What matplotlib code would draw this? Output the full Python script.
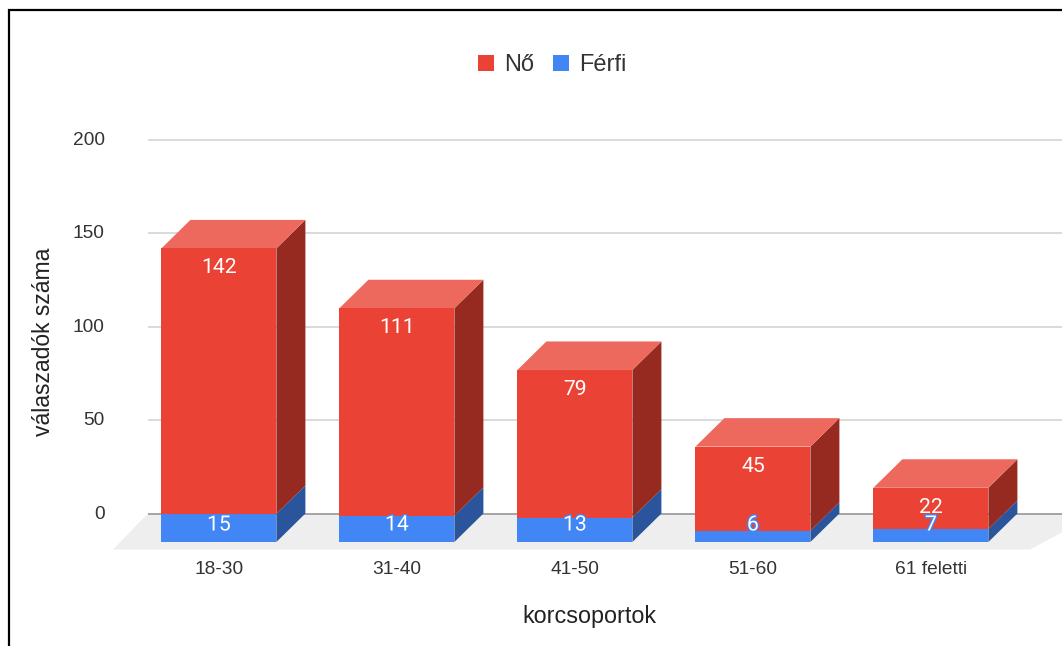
import matplotlib.pyplot as plt
from matplotlib.lines import Line2D
from matplotlib.patches import Patch
from matplotlib.transforms import ScaledTranslation
import matplotlib.patheffects as pe

plt.rcParams['font.family'] = ['Liberation Sans', 'DejaVu Sans']

korcsoportok = ['18-30', '31-40', '41-50', '51-60', '61 feletti']
no = [142, 111, 79, 45, 22]
ferfi = [15, 14, 13, 6, 7]
y_ticks = [0, 50, 100, 150, 200]

W, H = 1062, 646
px_y = 1.87     # pixel / value
px_x = 178      # pixel / category
bar_w = 115 / px_x
dx = 29 / px_x  # 3d depth
dy = 28.5 / px_y

fig = plt.figure(figsize=(W / 100, H / 100), dpi=100, facecolor='white')
ax = fig.add_axes([113 / W, 1 - 549.5 / H, (W - 113) / W, (549.5 - 139.5) / H])
ax.set_xlim((113 - 218.9) / px_x, (W - 218.9) / px_x)
ax.set_ylim((513.5 - 549.5) / px_y, 200)
for s in ax.spines.values():
    s.set_visible(False)

x0 = ax.get_xlim()[0]
x1 = ax.get_xlim()[1]
floor_y = ax.get_ylim()[0]
floor_dx = 35 / px_x

# padlo es racsvonalak
ax.fill([x0, x0 + floor_dx, x1 + floor_dx, x1 - 32 / px_x],
        [floor_y, 0, 0, floor_y], color='#eeeeee', lw=0, zorder=1)
for t in y_ticks:
    line = ax.plot([x0 + floor_dx, x1], [t, t], color='#9e9e9e' if t == 0 else '#d4d4d4',
                   lw=1.3 if t == 0 else 1.2, zorder=2, solid_capstyle='butt', clip_on=False)


def doboz(x, also, felso, szin, oldal, teteje=None):
    b = x - bar_w / 2
    j = x + bar_w / 2
    ax.fill([j, j + dx, j + dx, j], [also, also + dy, felso + dy, felso], color=oldal, lw=0, zorder=3)
    if teteje:
        ax.fill([b, j, j + dx, b + dx], [felso, felso, felso + dy, felso + dy], color=teteje, lw=0, zorder=3)
    ax.bar(x, felso - also, bar_w, bottom=also, color=szin, lw=0, zorder=4)


# az elulso lap alja -dy-nal van
for i in range(len(korcsoportok)):
    f = ferfi[i] - dy
    n = f + no[i]
    doboz(i, -dy, f, '#4285f4', '#2a549b')
    doboz(i, f, n, '#ea4335', '#962a21', '#ee695d')
    ax.text(i, n - 19.5 / px_y, str(no[i]), color='white', ha='center', va='center',
            fontsize=15.2, family='Roboto', zorder=6)
    txt = ax.text(i, -11.5 / px_y, str(ferfi[i]), color='white', ha='center', va='center',
                  fontsize=15.2, family='Roboto', zorder=7)
    txt.set_path_effects([pe.withStroke(linewidth=2, foreground='#4285f4')])

ax.set_yticks(y_ticks)
ax.set_xticks(range(len(korcsoportok)))
ax.set_xticklabels(korcsoportok)
ax.tick_params(axis='both', length=0, labelsize=13.8, labelcolor='#333333')
ax.tick_params(axis='y', pad=6)
ax.tick_params(axis='x', pad=8.5)
fel = ScaledTranslation(0, 0.8 / 72, fig.dpi_scale_trans)
for lab in ax.get_yticklabels():
    lab.set_transform(lab.get_transform() + fel)
ax.set_xlabel('korcsoportok', fontsize=16.8, color='#222222')
ax.xaxis.set_label_coords((589 - 113) / (W - 113), -(616 - 549.5) / (549.5 - 139.5), transform=ax.transAxes)
ax.xaxis.label.set_va('center')
fig.text(44 / W, 1 - 342 / H, 'válaszadók száma', rotation=90, fontsize=16.5, color='#222222',
         ha='center', va='center')

jel = [Patch(facecolor='#ea4335', label='Nő'), Patch(facecolor='#4285f4', label='Férfi')]
fig.legend(handles=jel, loc='center', bbox_to_anchor=(552.5 / W, 1 - 65 / H), ncol=2, frameon=False,
           fontsize=17, handlelength=0.65, handleheight=0.65, handletextpad=0.45, columnspacing=0.8,
           labelcolor='#333333')

# keret
fig.add_artist(Line2D([8.5 / W, 8.5 / W, 1], [0, 1 - 9.5 / H, 1 - 9.5 / H], color='black', lw=1.6,
                      solid_joinstyle='miter'))

fig.savefig('out.png', dpi=100)
